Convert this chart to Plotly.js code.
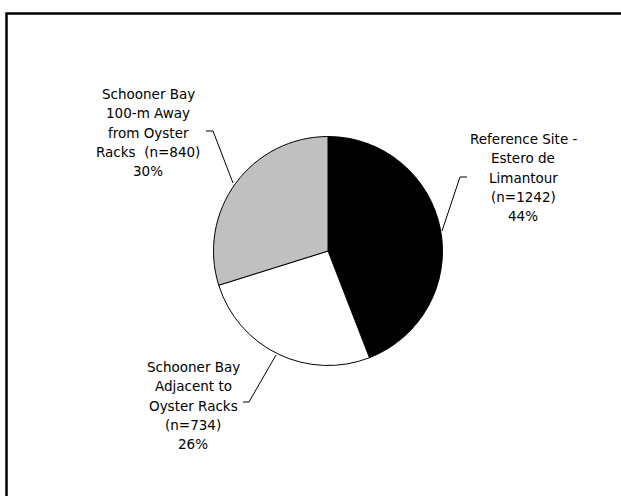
<!DOCTYPE html>
<html>
<head>
<meta charset="utf-8">
<script src="https://cdn.plot.ly/plotly-3.0.1.min.js"></script>
<style>html,body{margin:0;padding:0;background:#fff;}#chart{width:621px;height:496px;}</style>
</head>
<body>
<div id="chart"></div>
<script>
// ---- data ----
const sites = [
  "Reference Site - Estero de Limantour",
  "Schooner Bay Adjacent to Oyster Racks",
  "Schooner Bay 100-m Away from Oyster Racks"
];
const counts = [1242, 734, 840];
const sliceColors = ["#000000", "#ffffff", "#c0c0c0"];
const labelLines = [
  ["Reference Site -", "Estero de", "Limantour", "(n=1242)"],
  ["Schooner Bay", "Adjacent to", "Oyster Racks", "(n=734)"],
  ["Schooner Bay", "100-m Away", "from Oyster", "Racks  (n=840)"]
];

// ---- layout helpers (pixel -> paper) ----
const W = 621, H = 496;
const px = x => x / W;
const py = y => 1 - y / H;

const total = counts.reduce((a, b) => a + b, 0);
const pct = counts.map(c => Math.round(100 * c / total) + "%");

// label centres (x, y of first line) and leader lines (layout positions)
const labelPos = [[523, 139], [193, 367], [148, 94]];
const lineGap = 19.3;
const leaders = [
  [[467, 177], [460, 177], [442, 231]],
  [[243, 402], [249, 402], [276, 355]],
  [[206, 131], [213, 131], [233, 183]]
];

const annotations = [];
labelLines.forEach((lines, i) => {
  lines.concat([pct[i]]).forEach((t, k) => {
    annotations.push({
      xref: "paper", yref: "paper",
      x: px(labelPos[i][0]), y: py(labelPos[i][1] + k * lineGap),
      xanchor: "center", yanchor: "middle",
      align: "center", showarrow: false,
      text: t,
      font: {family: "DejaVu Sans, Verdana, sans-serif", size: 13.5, color: "#000"}
    });
  });
});

const shapes = leaders.map(pts => ({
  type: "path", xref: "paper", yref: "paper",
  path: "M" + pts.map(p => px(p[0]) + "," + py(p[1])).join(" L"),
  line: {color: "#000", width: 1}
}));
// chart frame
shapes.push({
  type: "rect", xref: "paper", yref: "paper",
  x0: px(6.5), y0: py(13.5), x1: px(640), y1: py(520),
  line: {color: "#000", width: 2.5}
});

const trace = {
  type: "pie",
  labels: sites,
  values: counts,
  sort: false,
  direction: "clockwise",
  rotation: 0,
  marker: {colors: sliceColors, line: {color: "#000", width: 1}},
  textinfo: "none",
  hoverinfo: "label+value+percent",
  domain: {x: [px(328 - 114.5), px(328 + 114.5)], y: [py(365.5), py(136.5)]},
  showlegend: false
};

Plotly.newPlot("chart", [trace], {
  width: W, height: H,
  margin: {l: 0, r: 0, t: 0, b: 0},
  paper_bgcolor: "#fff",
  showlegend: false,
  annotations: annotations,
  shapes: shapes
}, {displayModeBar: false, staticPlot: true});
</script>
</body>
</html>
